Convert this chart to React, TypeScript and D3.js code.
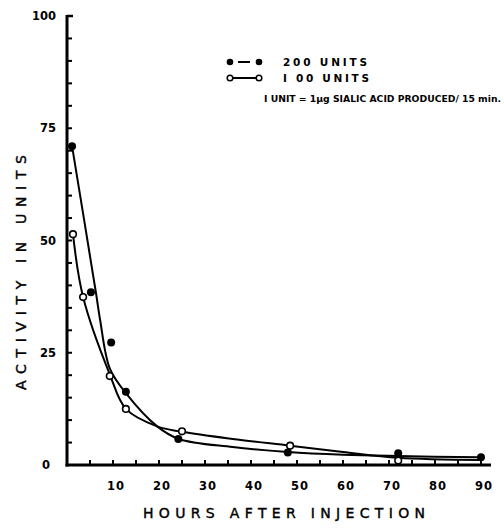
import * as d3 from 'd3';

// measured points
const hours200 = [1.1, 5.2, 9.6, 12.8, 24.2, 48, 72, 90];
const act200 = [71, 38.5, 27.3, 16.3, 5.8, 2.8, 2.6, 1.7];
const hours100 = [1.3, 3.5, 9.3, 12.8, 25, 48.5, 72];
const act100 = [51.4, 37.4, 19.8, 12.5, 7.5, 4.3, 1];

// smooth curves as drawn on the original
const fitHours200 = [1.1, 6.3, 7.2, 9.3, 12.8, 19.6, 24.3, 36, 48, 60, 72, 90];
const fitAct200 = [71, 38.3, 32.3, 21.5, 16, 8.6, 5.8, 4.0, 2.9, 2.3, 2.0, 1.7];
const fitHours100 = [1.3, 3.5, 9.3, 12.8, 19.6, 25, 36, 48.5, 60, 72, 90];
const fitAct100 = [51.4, 37.4, 20.2, 12.5, 8.6, 7.4, 5.8, 4.3, 2.9, 1.6, 1.1];

const yTicks = [0, 25, 50, 75, 100];
const xTicks = [10, 20, 30, 40, 50, 60, 70, 80, 90];

const W = 504;
const H = 528;
const font = "'DejaVu Sans', sans-serif";

export default function App() {
  const x = d3.scaleLinear().domain([0, 90]).range([67, 481]);
  const y = d3.scaleLinear().domain([0, 100]).range([465, 16]);

  const line = d3.line<[number, number]>()
    .x(d => x(d[0]))
    .y(d => y(d[1]))
    .curve(d3.curveCatmullRom.alpha(0.5));

  const fit200 = fitHours200.map((h, i) => [h, fitAct200[i]] as [number, number]);
  const fit100 = fitHours100.map((h, i) => [h, fitAct100[i]] as [number, number]);

  const minorY = d3.range(5, 100, 5);
  const minorX = d3.range(5, 95, 5);

  return (
    <svg width={W} height={H} style={{ position: 'absolute', left: 0, top: 0, background: '#fff' }}
      fontFamily={font}>
      {/* axes */}
      <line x1={x(0)} x2={x(0)} y1={y(100) - 1} y2={y(0) + 1.5} stroke="#000" strokeWidth={3} />
      <line x1={x(0) - 1.5} x2={491} y1={y(0)} y2={y(0)} stroke="#000" strokeWidth={3} />
      <line x1={x(0)} x2={x(0) + 6} y1={y(100)} y2={y(100)} stroke="#000" strokeWidth={2.5} />
      {minorY.map(v => (
        <line key={'yt' + v} x1={x(0)} x2={x(0) + 5} y1={y(v)} y2={y(v)} stroke="#000" strokeWidth={2} />
      ))}
      {minorX.map(v => (
        <line key={'xt' + v} x1={x(v)} x2={x(v)} y1={y(0)} y2={y(0) - 5} stroke="#000" strokeWidth={2} />
      ))}
      {yTicks.map(v => (
        <text key={'yl' + v} x={v === 0 ? 50 : 56} y={y(v) + 4} textAnchor="end" fontSize={11.5} fontWeight="bold">{v}</text>
      ))}
      {xTicks.map(v => (
        <text key={'xl' + v} x={x(v) + 3} y={490} textAnchor="middle" fontSize={11.5} fontWeight="bold" letterSpacing={1}>{v}</text>
      ))}
      <text x={143} y={518} fontSize={14} textLength={282} lengthAdjust="spacing"
        stroke="#000" strokeWidth={0.4}>HOURS AFTER INJECTION</text>
      <text transform="translate(26,390) rotate(-90)" fontSize={14} textLength={235} lengthAdjust="spacing"
        stroke="#000" strokeWidth={0.4}>ACTIVITY IN UNITS</text>

      {/* curves */}
      <path d={line(fit200) || ''} fill="none" stroke="#000" strokeWidth={2} />
      <path d={line(fit100) || ''} fill="none" stroke="#000" strokeWidth={2} />

      {/* points */}
      {hours100.map((h, i) => (
        <circle key={'o' + i} cx={x(h)} cy={y(act100[i])} r={3.3} fill="#fff" stroke="#000" strokeWidth={1.6} />
      ))}
      {hours200.map((h, i) => (
        <circle key={'f' + i} cx={x(h)} cy={y(act200[i])} r={4} fill="#000" />
      ))}

      {/* legend */}
      <circle cx={230} cy={62} r={3.3} fill="#000" />
      <line x1={238} x2={250} y1={62} y2={62} stroke="#000" strokeWidth={2} />
      <circle cx={259} cy={62} r={3.3} fill="#000" />
      <text x={283} y={66} fontSize={10.5} fontWeight="bold" textLength={84} lengthAdjust="spacing">200 UNITS</text>
      <circle cx={230} cy={78} r={2.8} fill="#fff" stroke="#000" strokeWidth={1.5} />
      <line x1={233} x2={256} y1={78} y2={78} stroke="#000" strokeWidth={2} />
      <circle cx={259} cy={78} r={2.8} fill="#fff" stroke="#000" strokeWidth={1.5} />
      <text x={283} y={82} fontSize={10.5} fontWeight="bold" textLength={86} lengthAdjust="spacing">I 00 UNITS</text>
      <text x={264} y={102} fontSize={8.5} fontWeight="bold" textLength={237} lengthAdjust="spacingAndGlyphs">I UNIT = 1µg SIALIC ACID PRODUCED/ 15 min.</text>
    </svg>
  );
}
